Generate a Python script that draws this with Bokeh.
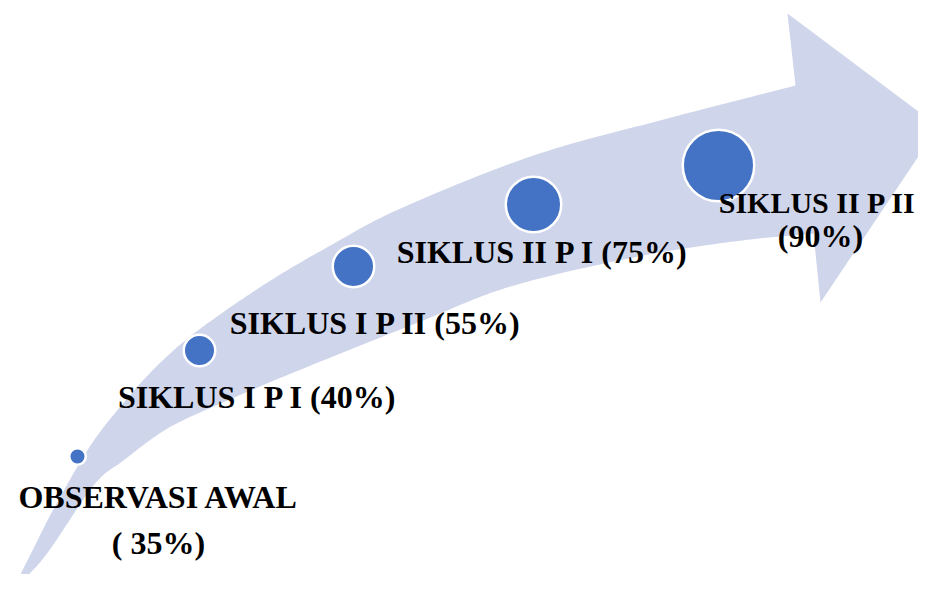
import numpy as np
from bokeh.plotting import figure
from bokeh.models import Range1d, ColumnDataSource
from bokeh.core.properties import value
from bokeh.embed import file_html
from bokeh.resources import INLINE

# ---- data ----
stages = ["OBSERVASI AWAL", "SIKLUS I P I", "SIKLUS I P II", "SIKLUS II P I", "SIKLUS II P II"]
percents = [35, 40, 55, 75, 90]

# ---- layout (diagram geometry, screen-pixel coordinates) ----
marker_x = [77, 199, 353, 533, 718]
marker_y = [456, 350, 266, 204, 165]
marker_r = [9.5, 17, 22, 29, 37]

# arrow outline
upper_edge = [(12, 590), (32, 550), (55, 505), (90, 445), (125, 400), (160, 362), (200, 328),
              (267, 282), (330, 245), (400, 208), (533, 155), (667, 118), (795, 85)]
head = [(787, 13), (938, 126), (820, 302)]
lower_edge = [(12, 590), (45, 555), (93, 485), (123, 460), (167, 428), (220, 403), (293, 372),
              (420, 321), (510, 286), (633, 257), (733, 241), (813, 233)]


def catmull(points, n=20):
    pts = np.array(points, dtype=float)
    ext = np.vstack([2 * pts[0] - pts[1], pts, 2 * pts[-1] - pts[-2]])
    out = []
    for i in range(1, len(ext) - 2):
        p0, p1, p2, p3 = ext[i - 1], ext[i], ext[i + 1], ext[i + 2]
        for t in np.linspace(0, 1, n, endpoint=False):
            t2, t3 = t * t, t * t * t
            pt = 0.5 * ((2 * p1) + (-p0 + p2) * t + (2 * p0 - 5 * p1 + 4 * p2 - p3) * t2
                        + (-p0 + 3 * p1 - 3 * p2 + p3) * t3)
            out.append(pt)
    out.append(pts[-1])
    return np.array(out)


up = catmull(upper_edge)
lo = catmull(lower_edge)[::-1]
hd = np.array(head, dtype=float)
poly = np.vstack([up, hd, lo])

p = figure(width=918, height=574, output_backend="svg", toolbar_location=None,
           x_range=Range1d(0, 918), y_range=Range1d(574, 0),
           min_border=0, min_border_left=0, min_border_right=0,
           min_border_top=0, min_border_bottom=0)
p.axis.visible = False
p.grid.visible = False
p.outline_line_color = None
p.background_fill_color = "white"
p.border_fill_color = "white"

p.patch(poly[:, 0], poly[:, 1], fill_color="#CFD5EA", line_color=None)

lw = 2.5
src = ColumnDataSource(dict(x=marker_x, y=marker_y, s=[2 * r - lw for r in marker_r]))
p.scatter("x", "y", size="s", source=src, fill_color="#4472C4", line_color="white", line_width=lw)

# labels
lab_text = [stages[0], "( %d%%)" % percents[0]]
for st, pc in zip(stages[1:4], percents[1:4]):
    lab_text.append("%s (%d%%)" % (st, pc))
lab_x = [158, 158, 257, 375, 542]
lab_y = [496, 542, 396, 322, 251]

p.text(x=lab_x, y=lab_y, text=lab_text, text_align="center", text_baseline="alphabetic",
       text_font=value("Liberation Serif"), text_font_style="bold", text_font_size="32px",
       text_color="black")

# last stage label (two lines, kept inside the right edge)
p.text(x=[817], y=[202], text=[stages[4]], text_align="center", text_baseline="alphabetic",
       text_font=value("Liberation Serif"), text_font_style="bold", text_font_size="30px",
       text_color="black")
p.text(x=[820], y=[235], text=["(%d%%)" % percents[4]], text_align="center", text_baseline="alphabetic",
       text_font=value("Liberation Serif"), text_font_style="bold", text_font_size="32px",
       text_color="black")

open("out.html", "w").write(file_html(p, INLINE))
